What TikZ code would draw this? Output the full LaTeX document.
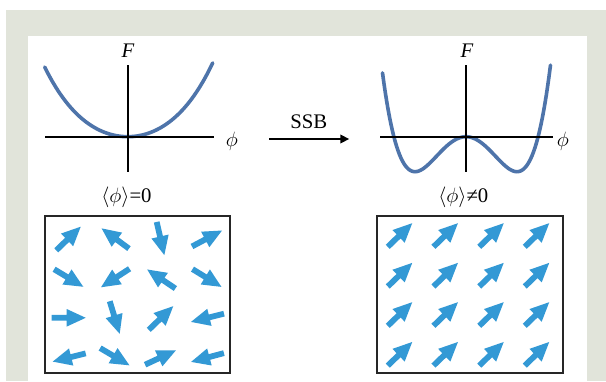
\documentclass[tikz,border=0pt]{standalone}
\usepackage{fontspec}
\setmainfont{Liberation Serif}
\usetikzlibrary{arrows.meta}
\definecolor{framegray}{HTML}{E1E4DA}
\definecolor{curveblue}{HTML}{4E74AA}
\definecolor{spinblue}{HTML}{3399D5}
\tikzset{
  axisline/.style={line width=2pt, black},
  curveline/.style={line width=3.6pt, curveblue, line cap=round},
  lbl/.style={inner sep=0pt, anchor=base, font=\huge},
  boxline/.style={line width=1.6pt, black!85},
  spin/.pic={\fill[spinblue] (-17,-2.9) -- (-2,-2.9) -- (-2,-8.8) -- (17,0) -- (-2,8.8) -- (-2,2.9) -- (-17,2.9) -- cycle;}
}
\begin{document}
\begin{tikzpicture}[x=1pt,y=-1pt]
\useasboundingbox (0,0) rectangle (606,381);
\fill[white] (0,0) rectangle (606,381);
\fill[framegray] (6,10) rectangle (606,381);
\fill[white] (28,36) rectangle (587,381);

% left potential
\draw[curveline] plot[domain=-83:85, samples=90] ({127.7+\x}, {136.7-71.7*(0.785*(\x/84)*(\x/84)+0.215*(\x/84)*(\x/84)*(\x/84)*(\x/84))});
\draw[axisline] (45,136.7) -- (214,136.7);
\draw[axisline] (127.7,65) -- (127.7,171.7);
\node[lbl] (FL) at (128,57) {\textit{F}};
\node[lbl] (phiL) at (232,146) {$\phi$};
\node[lbl] (vevL) at (126.5,202) {$\langle\phi\rangle$=0};

% right potential
\draw[curveline] plot[domain=-83.5:84.5, samples=120] ({466+\x}, {136.7-35*(((\x/51)*(\x/51)-1)*((\x/51)*(\x/51)-1)-1)});
\draw[axisline] (380,136.7) -- (552.7,136.7);
\draw[axisline] (466,65) -- (466,171.7);
\node[lbl] (FR) at (467,57) {\textit{F}};
\node[lbl] (phiR) at (563,146) {$\phi$};
\node[lbl] (vevR) at (463.3,202) {$\langle\phi\rangle$≠0};

% SSB arrow
\coordinate (ssbA) at (269.3,139);
\coordinate (ssbB) at (349.3,139);
\draw[line width=1.8pt, -{Triangle[length=9pt,width=8.5pt]}] (ssbA) -- (ssbB);
\node[lbl] (ssb) at (308.7,128.3) {SSB};

% boxes
\draw[boxline] (45,215.7) rectangle (230,372.7);
\draw[boxline] (376.7,215.7) rectangle (562.7,372.7);

% disordered spins
\pic[rotate=44] at (68.5,238.5) {spin};
\pic[rotate=143.5] at (115.3,238.5) {spin};
\pic[rotate=-77] at (160.5,238.5) {spin};
\pic[rotate=28] at (207,238.5) {spin};
\pic[rotate=-31] at (68.7,278) {spin};
\pic[rotate=213] at (115.3,278) {spin};
\pic[rotate=146] at (161.3,279) {spin};
\pic[rotate=-31.5] at (207,278) {spin};
\pic[rotate=0] at (68.7,317.8) {spin};
\pic[rotate=-73] at (114.7,317.5) {spin};
\pic[rotate=44] at (161,318) {spin};
\pic[rotate=194] at (207.5,317.8) {spin};
\pic[rotate=194] at (69.2,357.5) {spin};
\pic[rotate=-30.5] at (114.8,356.7) {spin};
\pic[rotate=25] at (160.5,357.5) {spin};
\pic[rotate=195] at (207.5,357.5) {spin};

% ordered spins
\foreach \cx in {400,445.7,491.5,537}{
  \foreach \cy in {235,274.7,314,353.8}{
    \pic[rotate=44] at (\cx,\cy) {spin};
  }
}
\end{tikzpicture}
\end{document}
